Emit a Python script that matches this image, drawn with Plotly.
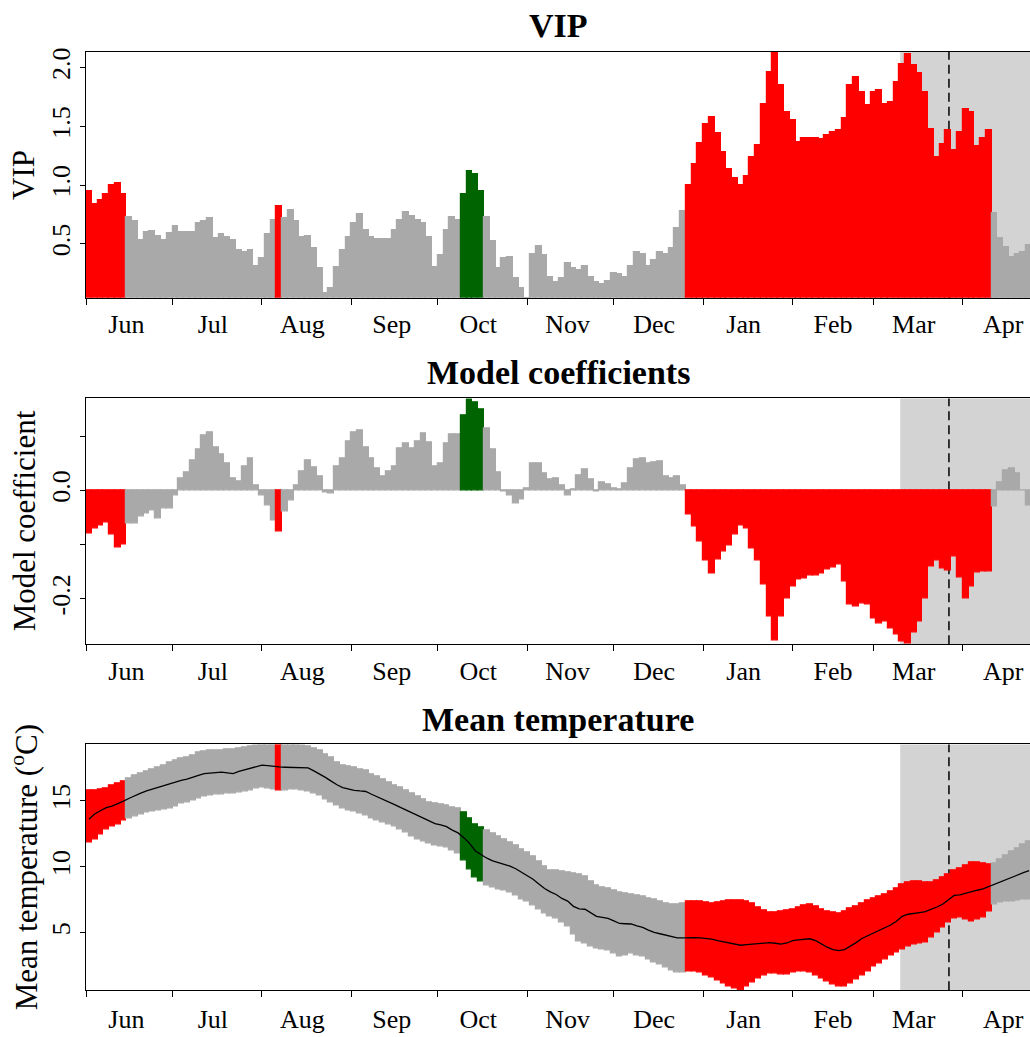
import plotly.graph_objects as go

# ---------------- data ----------------
# bar centres: day index counted from 1 June, one bar every 2 days
day_centers = list(range(1, 329, 2))

vip = [
    0.95, 0.84, 0.87, 0.92, 1.00, 1.02, 0.92, 0.73, 0.69, 0.53,
    0.60, 0.61, 0.57, 0.53, 0.59, 0.65, 0.60, 0.60, 0.60, 0.68,
    0.69, 0.72, 0.55, 0.58, 0.56, 0.53, 0.45, 0.43, 0.45, 0.31,
    0.38, 0.58, 0.70, 0.82, 0.72, 0.79, 0.69, 0.56, 0.57, 0.46,
    0.29, 0.08, 0.12, 0.30, 0.45, 0.56, 0.68, 0.75, 0.62, 0.56,
    0.54, 0.54, 0.54, 0.62, 0.70, 0.77, 0.74, 0.70, 0.68, 0.56,
    0.30, 0.40, 0.62, 0.73, 0.70, 0.92, 1.12, 1.09, 0.95, 0.73,
    0.52, 0.29, 0.38, 0.39, 0.21, 0.12, 0.04, 0.41, 0.48, 0.40,
    0.22, 0.17, 0.21, 0.34, 0.29, 0.28, 0.31, 0.22, 0.17, 0.16,
    0.18, 0.25, 0.24, 0.22, 0.31, 0.43, 0.41, 0.31, 0.36, 0.43,
    0.41, 0.46, 0.63, 0.78, 1.00, 1.18, 1.36, 1.52, 1.58, 1.44,
    1.28, 1.14, 1.06, 1.00, 1.08, 1.24, 1.34, 1.69, 1.96, 2.13,
    1.85, 1.62, 1.55, 1.37, 1.40, 1.40, 1.40, 1.39, 1.43, 1.45,
    1.47, 1.57, 1.85, 1.92, 1.79, 1.68, 1.79, 1.81, 1.69, 1.71,
    1.88, 2.03, 2.12, 2.02, 1.95, 1.79, 1.48, 1.24, 1.35, 1.47,
    1.30, 1.45, 1.65, 1.62, 1.33, 1.40, 1.47, 0.76, 0.55, 0.47,
    0.39, 0.41, 0.43, 0.49,
]

coef = [
    -0.080, -0.070, -0.064, -0.059, -0.082, -0.105, -0.100, -0.061, -0.061, -0.048,
    -0.042, -0.036, -0.052, -0.034, -0.033, -0.009, 0.022, 0.033, 0.056, 0.075,
    0.102, 0.108, 0.080, 0.066, 0.050, 0.022, 0.017, 0.044, 0.060, 0.010,
    -0.010, -0.027, -0.055, -0.075, -0.039, -0.018, 0.010, 0.036, 0.056, 0.042,
    0.025, -0.004, -0.005, 0.045, 0.059, 0.090, 0.107, 0.111, 0.079, 0.060,
    0.040, 0.025, 0.036, 0.044, 0.077, 0.087, 0.077, 0.091, 0.105, 0.088,
    0.045, 0.050, 0.087, 0.103, 0.103, 0.139, 0.169, 0.163, 0.150, 0.114,
    0.075, 0.033, -0.002, -0.009, -0.024, -0.016, 0.004, 0.050, 0.050, 0.031,
    0.020, 0.022, 0.010, -0.010, 0.002, 0.028, 0.039, 0.020, -0.002, 0.015,
    0.012, 0.003, 0.002, 0.013, 0.040, 0.058, 0.060, 0.050, 0.052, 0.053,
    0.025, 0.022, 0.025, 0.009, -0.045, -0.067, -0.095, -0.130, -0.153, -0.128,
    -0.112, -0.101, -0.082, -0.064, -0.070, -0.107, -0.130, -0.174, -0.233, -0.277,
    -0.233, -0.200, -0.177, -0.165, -0.163, -0.157, -0.157, -0.153, -0.145, -0.142,
    -0.137, -0.168, -0.211, -0.214, -0.208, -0.210, -0.236, -0.245, -0.242, -0.254,
    -0.266, -0.279, -0.283, -0.263, -0.242, -0.200, -0.140, -0.130, -0.144, -0.147,
    -0.122, -0.160, -0.200, -0.177, -0.152, -0.150, -0.150, -0.030, 0.015, 0.037,
    0.040, 0.031, 0.000, -0.027,
]

temp_mean = [
    13.60, 14.00, 14.25, 14.48, 14.60, 14.77, 14.98, 15.20, 15.42, 15.58,
    15.75, 15.89, 16.00, 16.15, 16.30, 16.42, 16.56, 16.65, 16.77, 16.94,
    17.07, 17.12, 17.17, 17.18, 17.12, 17.07, 17.23, 17.35, 17.47, 17.60,
    17.71, 17.67, 17.60, 17.57, 17.55, 17.53, 17.52, 17.52, 17.50, 17.27,
    17.04, 16.78, 16.50, 16.22, 16.01, 15.90, 15.80, 15.75, 15.71, 15.50,
    15.31, 15.14, 14.92, 14.71, 14.50, 14.30, 14.10, 13.88, 13.67, 13.45,
    13.28, 13.17, 13.05, 12.78, 12.57, 12.20, 11.78, 11.20, 10.90, 10.65,
    10.45, 10.32, 10.20, 10.05, 9.85, 9.60, 9.35, 9.05, 8.70, 8.35,
    8.10, 7.90, 7.60, 7.40, 7.00, 6.81, 6.78, 6.50, 6.24, 6.16,
    6.08, 5.90, 5.70, 5.68, 5.66, 5.52, 5.40, 5.20, 5.02, 4.92,
    4.80, 4.70, 4.60, 4.60, 4.64, 4.63, 4.60, 4.57, 4.52, 4.40,
    4.30, 4.20, 4.10, 4.05, 4.10, 4.14, 4.18, 4.22, 4.24, 4.20,
    4.14, 4.22, 4.40, 4.45, 4.48, 4.54, 4.40, 4.15, 3.90, 3.72,
    3.64, 3.72, 3.97, 4.25, 4.56, 4.77, 4.97, 5.16, 5.36, 5.58,
    5.87, 6.24, 6.40, 6.49, 6.53, 6.60, 6.75, 6.95, 7.16, 7.50,
    7.83, 7.87, 8.00, 8.12, 8.22, 8.32, 8.50, 8.70, 8.87, 9.05,
    9.20, 9.36, 9.55, 9.70,
]

temp_upper = [
    15.77, 15.80, 15.87, 15.98, 16.14, 16.31, 16.50, 16.73, 16.93, 17.07,
    17.21, 17.36, 17.50, 17.69, 17.90, 18.06, 18.23, 18.33, 18.47, 18.64,
    18.78, 18.80, 18.82, 18.84, 18.87, 18.90, 18.98, 19.04, 19.12, 19.23,
    19.30, 19.30, 19.29, 19.28, 19.28, 19.28, 19.28, 19.20, 19.14, 18.97,
    18.80, 18.54, 18.26, 17.93, 17.68, 17.60, 17.50, 17.40, 17.29, 17.04,
    16.83, 16.65, 16.43, 16.20, 16.00, 15.78, 15.56, 15.34, 15.13, 14.90,
    14.79, 14.71, 14.63, 14.50, 14.40, 14.10, 13.67, 13.25, 13.00, 12.75,
    12.53, 12.33, 12.10, 11.87, 11.62, 11.35, 11.10, 10.80, 10.40, 10.00,
    9.75, 9.70, 9.62, 9.57, 9.50, 9.42, 9.30, 8.90, 8.60, 8.45,
    8.35, 8.20, 8.08, 7.98, 7.89, 7.82, 7.76, 7.62, 7.50, 7.38,
    7.24, 7.15, 7.17, 7.25, 7.36, 7.38, 7.35, 7.27, 7.25, 7.32,
    7.39, 7.43, 7.47, 7.47, 7.38, 7.20, 6.95, 6.68, 6.50, 6.55,
    6.62, 6.70, 6.80, 6.95, 7.07, 7.11, 6.98, 6.78, 6.62, 6.52,
    6.47, 6.60, 6.81, 7.02, 7.24, 7.42, 7.57, 7.72, 7.88, 8.10,
    8.35, 8.64, 8.80, 8.90, 8.86, 8.83, 8.83, 8.97, 9.18, 9.45,
    9.69, 9.86, 10.10, 10.30, 10.31, 10.26, 10.20, 10.25, 10.55, 10.88,
    11.13, 11.40, 11.68, 11.95,
]

temp_lower = [
    11.85, 12.10, 12.45, 12.83, 13.05, 13.25, 13.48, 13.66, 13.83, 13.96,
    14.11, 14.19, 14.26, 14.35, 14.44, 14.55, 14.77, 14.90, 15.05, 15.19,
    15.31, 15.38, 15.45, 15.50, 15.53, 15.56, 15.64, 15.71, 15.80, 15.91,
    15.99, 15.93, 15.84, 15.80, 15.82, 15.86, 15.88, 15.81, 15.74, 15.57,
    15.40, 15.10, 14.85, 14.62, 14.44, 14.31, 14.17, 14.04, 13.90, 13.70,
    13.54, 13.39, 13.23, 13.05, 12.83, 12.57, 12.30, 12.11, 11.94, 11.76,
    11.64, 11.56, 11.48, 11.24, 11.05, 10.50, 9.80, 9.20, 8.87, 8.60,
    8.45, 8.30, 8.20, 8.05, 7.85, 7.55, 7.35, 7.05, 6.80, 6.45,
    6.25, 6.05, 5.80, 5.50, 4.85, 4.35, 4.15, 3.95, 3.80, 3.74,
    3.68, 3.45, 3.18, 3.28, 3.40, 3.28, 3.17, 2.95, 2.78, 2.60,
    2.35, 2.17, 2.00, 2.00, 2.10, 2.05, 1.95, 1.75, 1.60, 1.38,
    1.15, 0.95, 0.75, 0.65, 0.95, 1.25, 1.55, 1.78, 1.94, 1.88,
    1.80, 1.86, 2.02, 2.07, 2.09, 1.95, 1.75, 1.55, 1.30, 1.05,
    0.90, 0.90, 1.15, 1.45, 1.79, 2.10, 2.41, 2.70, 3.00, 3.28,
    3.52, 3.75, 3.95, 4.12, 4.15, 4.30, 4.65, 5.05, 5.40, 5.75,
    6.07, 6.14, 6.00, 5.85, 6.00, 6.17, 6.60, 7.17, 7.27, 7.35,
    7.40, 7.45, 7.50, 7.56,
]

# periods flagged as important (bar-centre day ranges, inclusive)
red_spans = [(1, 13), (67, 67), (209, 313)]
green_spans = [(131, 137)]

month_starts = [0, 30, 61, 92, 122, 153, 183, 214, 245, 273, 304]
month_labels = ["Jun", "Jul", "Aug", "Sep", "Oct", "Nov", "Dec", "Jan", "Feb", "Mar", "Apr"]
label_shift = 14          # labels sit mid-month

shade_start = 282.3       # start of the shaded period (days after 1 June)
marker_day = 299.2        # dashed reference line

# ---------------- styling ----------------
RED, GREEN, GREY, LIGHT = "#ff0000", "#006400", "#a9a9a9", "#d3d3d3"
FONT = "Liberation Serif"
W, H, L = 1030, 1037, 86
x_range = [0, 327.3]


def bar_color(c):
    for a, b in red_spans:
        if a <= c <= b:
            return RED
    for a, b in green_spans:
        if a <= c <= b:
            return GREEN
    return GREY


colors = [bar_color(c) for c in day_centers]
bar_marker = dict(color=colors, line=dict(color=colors, width=1.2))

# panel pixel extents (top, bottom) and y ranges
panels = [(48.3, 295.0), (396.0, 642.7), (743.3, 990.0)]
y_ranges = [[0.04, 2.133], [-0.284, 0.170], [0.64, 19.28]]
y_major = [
    ([0.5, 1.0, 1.5, 2.0], ["0.5", "1.0", "1.5", "2.0"]),
    ([-0.2, 0.0], ["-0.2", "0.0"]),
    ([5, 10, 15], ["5", "10", "15"]),
]
y_minor = [[], [-0.1, 0.1], []]
titles = ["VIP", "Model coefficients", "Mean temperature"]
title_centers = [21.5, 370.0, 718.5]
y_titles = ["VIP", "Model coefficient", "Mean temperature (<sup>o</sup>C)"]
x_label_standoff = [3, 4, 6]

fig = go.Figure()

fig.add_trace(go.Bar(x=day_centers, y=vip, width=2, marker=bar_marker,
                     xaxis="x", yaxis="y", hoverinfo="skip"))
fig.add_trace(go.Bar(x=day_centers, y=coef, width=2, marker=bar_marker,
                     xaxis="x2", yaxis="y2", hoverinfo="skip"))
fig.add_trace(go.Bar(x=day_centers, base=temp_lower,
                     y=[u - l for u, l in zip(temp_upper, temp_lower)], width=2,
                     marker=bar_marker, xaxis="x3", yaxis="y3", hoverinfo="skip"))
fig.add_trace(go.Scatter(x=day_centers, y=temp_mean, mode="lines",
                         line=dict(color="black", width=1.3),
                         xaxis="x3", yaxis="y3", hoverinfo="skip"))

layout = dict(
    width=W, height=H,
    margin=dict(l=L, r=0, t=0, b=0),
    paper_bgcolor="white", plot_bgcolor="white",
    showlegend=False,
    font=dict(family=FONT, color="black", size=26),
    bargap=0,
)

shapes = []
annotations = []
for i, ((top, bot), yr, (tv, tt), mv) in enumerate(zip(panels, y_ranges, y_major, y_minor)):
    sfx = "" if i == 0 else str(i + 1)
    dom = [1 - bot / H, 1 - top / H]
    layout["xaxis" + sfx] = dict(
        domain=[0, 1], anchor="y" + sfx, range=x_range,
        showline=True, linecolor="black", linewidth=1, mirror=True,
        showgrid=False, zeroline=False,
        tickmode="array",
        tickvals=[m + label_shift for m in month_starts], ticktext=month_labels,
        ticks="outside", ticklen=0, tickcolor="rgba(0,0,0,0)",
        ticklabelstandoff=x_label_standoff[i],
        tickfont=dict(family=FONT, size=26, color="black"),
        minor=dict(tickmode="array", tickvals=month_starts, ticks="outside",
                   ticklen=6, tickwidth=1, tickcolor="black", showgrid=False),
    )
    layout["yaxis" + sfx] = dict(
        domain=dom, anchor="x" + sfx, range=yr,
        showline=True, linecolor="black", linewidth=1, mirror=False,
        showgrid=False, zeroline=False,
        tickmode="array", tickvals=tv, ticktext=tt,
        ticks="outside", ticklen=5, tickwidth=1, tickcolor="black",
        tickangle=-90,
        tickfont=dict(family=FONT, size=26, color="black"),
        minor=dict(tickmode="array", tickvals=mv, ticks="outside", ticklen=5,
                   tickwidth=1, tickcolor="black", showgrid=False),
    )
    xr, yr_ref = "x" + sfx, "y" + sfx + " domain"
    shapes.append(dict(type="rect", xref=xr, yref=yr_ref, x0=shade_start, x1=x_range[1],
                       y0=0, y1=1, fillcolor=LIGHT, line=dict(width=0), layer="below"))
    shapes.append(dict(type="line", xref=xr, yref=yr_ref, x0=marker_day, x1=marker_day,
                       y0=0, y1=1, line=dict(color="black", width=1.5, dash="9px,5px"),
                       layer="below"))
    # panel title
    annotations.append(dict(text="<b>" + titles[i] + "</b>", xref="paper", yref="paper",
                            x=0.5, y=1 - title_centers[i] / H, xanchor="center",
                            yanchor="middle", showarrow=False,
                            font=dict(family=FONT, size=34, color="black")))
    # y-axis title
    annotations.append(dict(text=y_titles[i], xref="paper", yref="paper",
                            x=(24 - L) / (W - L), y=1 - (top + bot) / 2 / H,
                            xanchor="center", yanchor="middle", textangle=-90,
                            showarrow=False, font=dict(family=FONT, size=31, color="black")))

layout["shapes"] = shapes
layout["annotations"] = annotations
fig.update_layout(**layout)

fig.write_html("out.html", config={"displayModeBar": False},
               post_script="document.body.style.margin='0';document.body.style.overflow='hidden';")
